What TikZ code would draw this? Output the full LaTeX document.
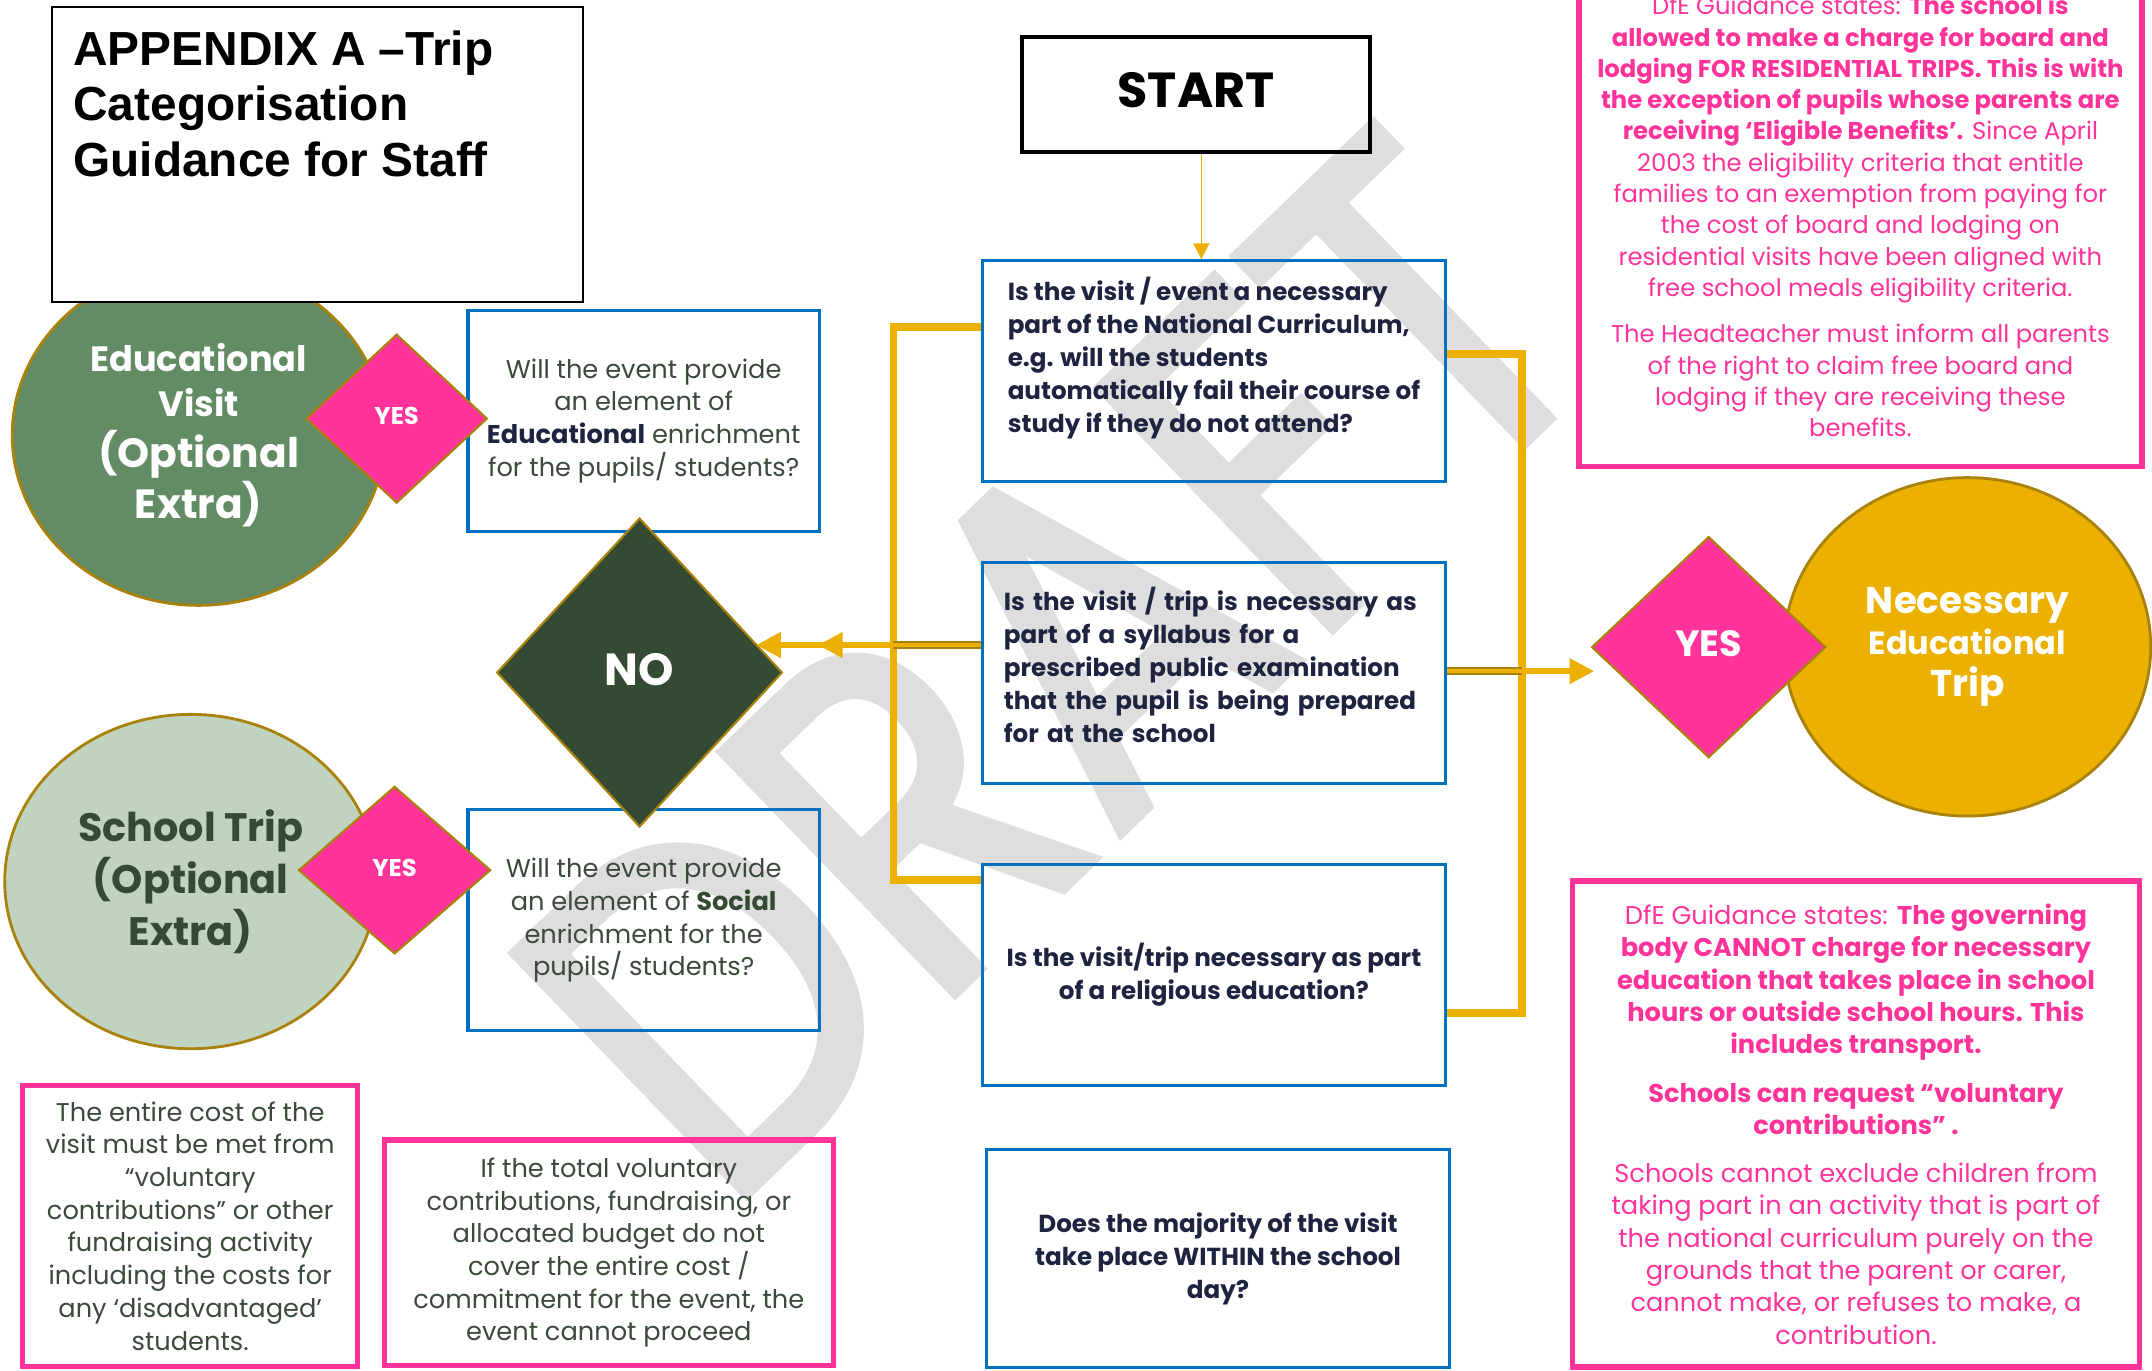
\documentclass[tikz,border=0pt]{standalone}
\usepackage{fontspec}
\setmainfont{Poppins}
\newfontfamily\titlefont{Liberation Sans}
\newfontfamily\draftfont[FakeBold=2]{Poppins}
\usetikzlibrary{shapes.geometric,arrows.meta}

\definecolor{flowgold}{HTML}{EBB000}
\definecolor{shapeedge}{HTML}{A8820A}
\definecolor{qblue}{HTML}{0070C0}
\definecolor{hotpink}{HTML}{FF3399}
\definecolor{navy}{HTML}{1E2340}
\definecolor{sage}{HTML}{638C65}
\definecolor{palesage}{HTML}{C0D3C1}
\definecolor{darkleaf}{HTML}{344A33}
\definecolor{greytext}{HTML}{3C4A3B}
\definecolor{draftgrey}{HTML}{DEDEDE}

\newcommand{\qfont}{\fontsize{7.0}{9.4}\selectfont\bfseries}
\newcommand{\bodyfont}{\fontsize{7.3}{9.3}\selectfont}

\begin{document}
\begin{tikzpicture}[x=0.013724cm, y=-0.013724cm,
	qbox/.style={draw=qblue, line width=0.9pt, minimum width=4.625cm, minimum height=2.21cm, inner sep=0pt, text=navy, font=\qfont},
	askbox/.style={draw=qblue, line width=0.9pt, minimum width=3.513cm, minimum height=2.21cm, inner sep=0pt, text=greytext, font=\bodyfont, align=center},
	notebox/.style={draw=hotpink, line width=1.5pt, inner sep=0pt, align=center},
	yesmark/.style={shape=diamond, fill=hotpink, draw=shapeedge, line width=0.6pt, inner sep=0pt, text=white},
	bubble/.style={shape=ellipse, draw=shapeedge, line width=0.8pt, inner sep=0pt, align=center},
	goldline/.style={draw=flowgold, line width=2.2pt},
	feedline/.style={draw=shapeedge, double=flowgold, double distance=1pt, line width=0.6pt},
	goldarrow/.style={draw=flowgold, line width=1.6pt, -{Triangle[length=7pt,width=7pt]}}]
	\useasboundingbox (0,0) rectangle (1568,998.25);
	\fill[white] (0,0) rectangle (1568,998.25);

	% watermark
	\begin{scope}[shift={(527,887)}, rotate=44, xscale=0.85]
		\node (draft) [transform shape, anchor=base west, inner sep=0pt, text=draftgrey, font=\draftfont\fontsize{137}{137}\selectfont] at (0,0) {DRAFT};
	\end{scope}

	% outcome bubbles
	\node (educ) [bubble, fill=sage, text=white, minimum width=3.726cm, minimum height=3.404cm, font=\fontsize{11.6}{14.4}\selectfont\bfseries] at (144.7,317)
		{{\fontsize{10}{12}\selectfont Educational}\\[-1.5pt] {\fontsize{10}{12}\selectfont Visit}\\ (Optional\\ Extra)};
	\node (school) [bubble, fill=palesage, text=darkleaf, minimum width=3.719cm, minimum height=3.342cm, font=\fontsize{11.3}{14.8}\selectfont\bfseries] at (139,642.3)
		{School Trip\\ (Optional\\ Extra)};
	\node (need) [bubble, fill=flowgold, text=white, minimum width=3.664cm, minimum height=3.383cm, font=\fontsize{10.6}{11.9}\selectfont\bfseries] at (1433.5,471.3)
		{Necessary\\ {\fontsize{9.1}{11}\selectfont Educational}\\ Trip};

	% title and start
	\node (title) [draw=black, line width=0.6pt, fill=white, minimum width=5.311cm, minimum height=2.951cm] at (231.5,112.5) {};
	\node (titletext) [anchor=north west, align=left, inner sep=0pt, font=\titlefont\bfseries\fontsize{13.6}{15.8}\selectfont] at (53,21.6)
		{APPENDIX A –Trip\\ Categorisation\\ Guidance for Staff};
	\node (start) [draw=black, line width=1.1pt, minimum width=3.472cm, minimum height=1.153cm, font=\fontsize{14}{14}\selectfont\bfseries] at (871.5,69) {\raisebox{2.7pt}{START}};

	% questions
	\node (q1) [qbox, align=left] at (884.5,270.5) {Is the visit / event a necessary\\ part of the National Curriculum,\\ e.g. will the students\\ automatically fail their course of\\ study if they do not attend?\\ \mbox{}};
	\node (q2) [qbox, align=left, text width=4.2cm] at (884.5,490.5) {Is the visit / trip is necessary as\\ part of a syllabus for a\\ prescribed public examination\\ that the pupil is being prepared\\ for at the school\\[-4.7pt] \mbox{}};
	\node (q3) [qbox, align=center] at (884.5,710.5) {Is the visit/trip necessary as part\\ of a religious education?};
	\node (q4) [qbox, align=center, minimum height=2.182cm] at (887.5,917) {Does the majority of the visit\\ take place WITHIN the school\\ day?};

	\node (askedu) [askbox] at (469,306.5) {Will the event provide\\ an element of\\ \textbf{\color{navy}Educational} enrichment\\ for the pupils/ students?};
	\node (asksoc) [askbox] at (469,670.5) {Will the event provide\\ an element of \textbf{\color{darkleaf}Social}\\ enrichment for the\\ pupils/ students?};

	% notes
	\node (cost) [notebox, text=greytext, font=\bodyfont, minimum width=3.349cm, minimum height=2.813cm] at (138.6,893.2)
		{The entire cost of the\\ visit must be met from\\ “voluntary\\ contributions” or other\\ fundraising activity\\ including the costs for\\ any ‘disadvantaged’\\ students.};
	\node (budget) [notebox, text=greytext, font=\bodyfont, minimum width=4.488cm, minimum height=2.251cm] at (443.6,912.7)
		{If the total voluntary\\ contributions, fundraising, or\\ allocated budget do not\\ cover the entire cost /\\ commitment for the event, the\\ event cannot proceed};
	\node (board) [notebox, text=hotpink, font=\fontsize{6.9}{8.9}\selectfont, minimum width=5.627cm, minimum height=5.009cm] at (1355.5,157.5)
		{DfE Guidance states: \textbf{The school is}\\ \textbf{allowed to make a charge for board and}\\ \textbf{lodging FOR RESIDENTIAL TRIPS. This is with}\\ \textbf{the exception of pupils whose parents are}\\ \textbf{receiving ‘Eligible Benefits’.} Since April\\ 2003 the eligibility criteria that entitle\\ families to an exemption from paying for\\ the cost of board and lodging on\\ residential visits have been aligned with\\ free school meals eligibility criteria.\\[4.3pt]
		The Headteacher must inform all parents\\ of the right to claim free board and\\ lodging if they are receiving these\\ benefits.};
	\node (charge) [notebox, text=hotpink, font=\fontsize{7.3}{9.2}\selectfont, minimum width=5.668cm, minimum height=4.858cm] at (1352.3,819)
		{DfE Guidance states: \textbf{The governing}\\ \textbf{body CANNOT charge for necessary}\\ \textbf{education that takes place in school}\\ \textbf{hours or outside school hours. This}\\ \textbf{includes transport.}\\[4.6pt]
		\textbf{Schools can request “voluntary}\\ \textbf{contributions” .}\\[4.4pt]
		Schools cannot exclude children from\\ taking part in an activity that is part of\\ the national curriculum purely on the\\ grounds that the parent or carer,\\ cannot make, or refuses to make, a\\ contribution.};

	% decision marks
	\node (yesedu) [yesmark, minimum width=1.812cm, minimum height=1.688cm, font=\fontsize{6.9}{7}\selectfont\bfseries] at (289,305) {\raisebox{1.5pt}{YES}};
	\node (yessoc) [yesmark, minimum width=1.921cm, minimum height=1.674cm, font=\fontsize{6.9}{7}\selectfont\bfseries] at (287.5,634) {\raisebox{1.5pt}{YES}};
	\node (yesneed) [yesmark, minimum width=2.34cm, minimum height=2.21cm, font=\fontsize{10.4}{11}\selectfont\bfseries] at (1245,471.5) {\raisebox{2pt}{YES}};
	\node (no) [shape=diamond, fill=darkleaf, draw=shapeedge, line width=0.6pt, inner sep=0pt, minimum width=2.855cm, minimum height=3.088cm, text=white, font=\fontsize{12.8}{13}\selectfont\bfseries] at (466,490) {\raisebox{1.5pt}{NO}};

	% connectors
	\coordinate (ltop) at (651,238);
	\coordinate (lmid) at (651,470);
	\coordinate (lbot) at (651,641);
	\coordinate (rtop) at (1109,258);
	\coordinate (rmid) at (1109,489);
	\coordinate (rbot) at (1109,738);
	\coordinate (noin) at (551,470);
	\coordinate (nomid) at (596,470);

	\draw[flowgold, line width=0.5pt, -{Triangle[length=4.5pt,width=4.5pt]}] ([xshift=1.5pt]start.south) -- ([xshift=1.5pt]start.south |- q1.north);
	\draw[goldline] (q1.west |- ltop) -- (ltop) -- (lbot) -- (q3.west |- lbot);
	\draw[goldline] (q1.east |- rtop) -- (rtop) -- (rbot) -- (q3.east |- rbot);
	\draw[feedline] (q2.west |- lmid) -- (lmid);
	\draw[feedline] (q2.east |- rmid) -- (rmid);
	\draw[goldarrow] (lmid) -- (noin);
	\draw[goldarrow] (lmid) -- (nomid);
	\draw[goldarrow] (rmid) -- ([xshift=1pt]yesneed.west |- rmid);
\end{tikzpicture}
\end{document}
